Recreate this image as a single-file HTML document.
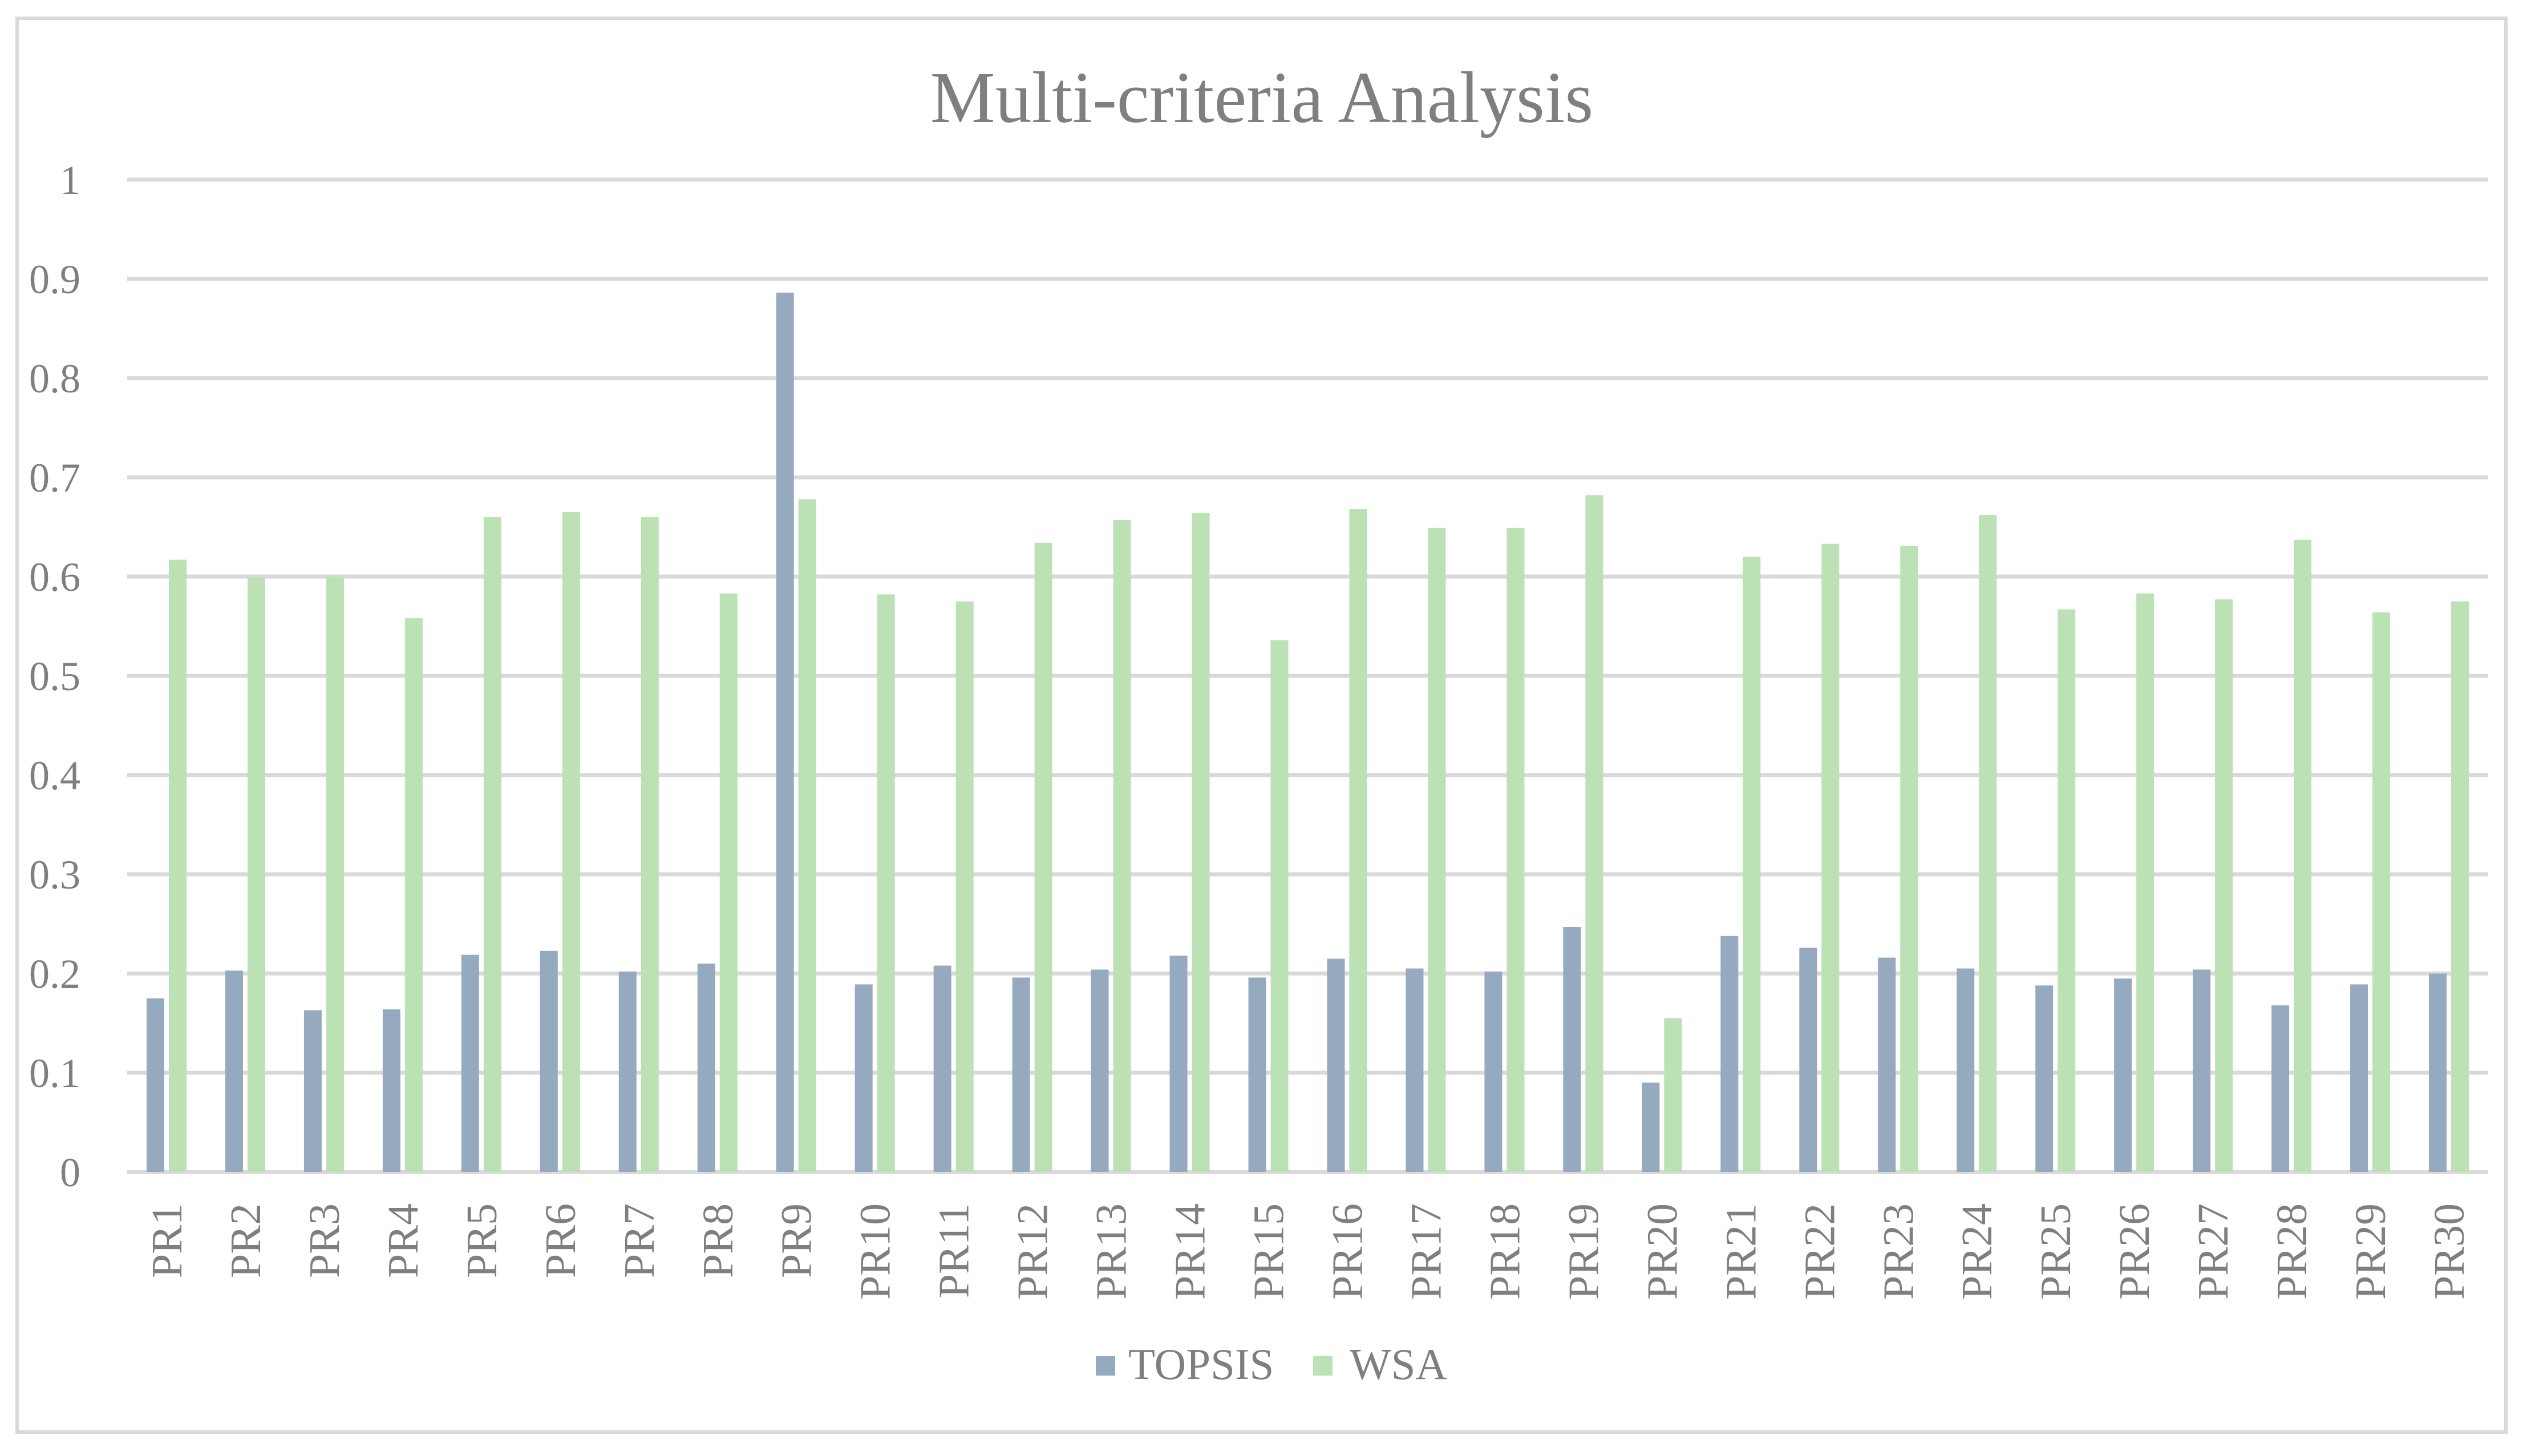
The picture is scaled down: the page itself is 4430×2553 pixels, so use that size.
<!DOCTYPE html>
<html><head><meta charset="utf-8"><style>
html,body{margin:0;padding:0;background:#fff;}
svg{display:block;}
text{font-family:"Liberation Serif",serif;fill:#7f7f7f;}
</style></head><body>
<svg id="chart" width="4430" height="2553" viewBox="0 0 4430 2553">
<rect x="30" y="32" width="4363" height="2479" fill="#fff" stroke="#d9d9d9" stroke-width="6"/>
<text x="2212" y="214" font-size="128" text-anchor="middle">Multi-criteria Analysis</text>
<g id="grid"></g><g id="bars"></g><g id="xlabels"></g>
<g>
<rect x="1921" y="2378" width="34" height="34" fill="#95aabf"/>
<text x="1978" y="2418" font-size="77">TOPSIS</text>
<rect x="2302" y="2378" width="34" height="34" fill="#bbe1b4"/>
<text x="2366" y="2418" font-size="77">WSA</text>
</g>
</svg>
<script>
const categories = ["PR1","PR2","PR3","PR4","PR5","PR6","PR7","PR8","PR9","PR10","PR11","PR12","PR13","PR14","PR15","PR16","PR17","PR18","PR19","PR20","PR21","PR22","PR23","PR24","PR25","PR26","PR27","PR28","PR29","PR30"];
const topsis = [0.175,0.203,0.163,0.164,0.219,0.223,0.202,0.210,0.886,0.189,0.208,0.196,0.204,0.218,0.196,0.215,0.205,0.202,0.247,0.090,0.238,0.226,0.216,0.205,0.188,0.195,0.204,0.168,0.189,0.200];
const wsa = [0.617,0.599,0.600,0.558,0.660,0.665,0.660,0.583,0.678,0.582,0.575,0.634,0.657,0.664,0.536,0.668,0.649,0.649,0.682,0.155,0.620,0.633,0.631,0.662,0.567,0.583,0.577,0.637,0.564,0.575];
const yTicks = [0,0.1,0.2,0.3,0.4,0.5,0.6,0.7,0.8,0.9,1];
const yTickLabels = ["0","0.1","0.2","0.3","0.4","0.5","0.6","0.7","0.8","0.9","1"];

const NS="http://www.w3.org/2000/svg";
const L=223,R=4362,Y0=2055,Y1=315;
function y(v){return Y0-(Y0-Y1)*v;}
const band=(R-L)/categories.length;
function xc(i){return L+band*(i+0.5);}
function mk(tag,attrs,parent){const e=document.createElementNS(NS,tag);for(const k in attrs)e.setAttribute(k,attrs[k]);parent.appendChild(e);return e;}
const grid=document.getElementById('grid'),bars=document.getElementById('bars'),xl=document.getElementById('xlabels');
yTicks.forEach((t,i)=>{
  const ln=mk('line',{x1:L,x2:R,y1:y(t),y2:y(t),stroke:'#d9d9d9','stroke-width':7},grid);
  
  
  const tx=mk('text',{x:141,y:y(t)+25,'font-size':72,'text-anchor':'end'},grid);
  tx.textContent=yTickLabels[i];
  
  
});
const bw=31,gap=8;
categories.forEach((c,i)=>{
  const cx=xc(i);
  const b1=mk('rect',{x:cx-gap/2-bw,y:y(topsis[i]),width:bw,height:Y0-y(topsis[i]),fill:'#95aabf'},bars);
  
  
  const b2=mk('rect',{x:cx+gap/2,y:y(wsa[i]),width:bw,height:Y0-y(wsa[i]),fill:'#bbe1b4'},bars);
  
  
  const t=mk('text',{x:0,y:0,'font-size':76,'text-anchor':'end',transform:'translate('+(cx+26)+',2110) rotate(-90)'},xl);
  t.textContent=c;
  
  
});
</script>
</body></html>
